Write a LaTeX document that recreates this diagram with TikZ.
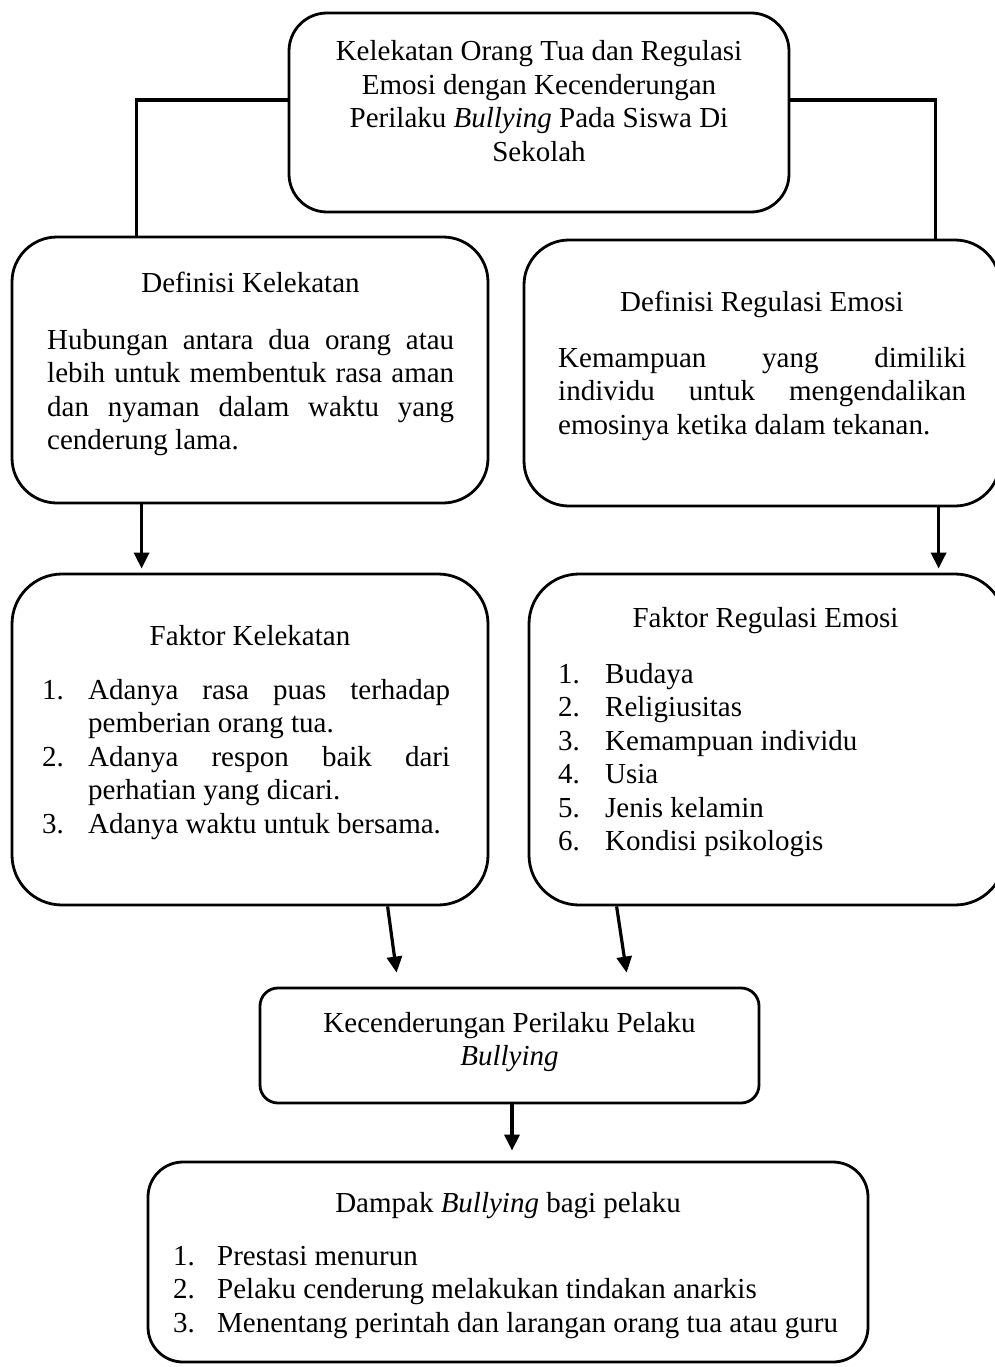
\documentclass[tikz,border=0pt]{standalone}
\usepackage{fontspec}
\setmainfont{Liberation Serif}
\usetikzlibrary{arrows.meta,calc}
\newcommand{\itm}[3]{\hangindent=#1\hangafter=1\noindent\makebox[#1][l]{#2}#3\par}
\begin{document}
\begin{tikzpicture}[x=1pt,y=-1pt,
  box/.style={draw, line width=2.8pt, rectangle, inner sep=0pt},
  conn/.style={line width=3.2pt},
  arr/.style={line width=3.2pt, -{Triangle[length=16pt,width=15pt]}},
  txt/.style={inner sep=0pt, font=\fontsize{29}{33.5}\selectfont}]
\useasboundingbox (0,0) rectangle (995,1367);
\clip (0,0) rectangle (995,1367);
% boxes
\node[box, rounded corners=38pt, minimum width=500pt, minimum height=199pt] (top) at (539,112.5) {};
\node[box, rounded corners=45pt, minimum width=476pt, minimum height=266pt] (defK) at (250,370) {};
\node[box, rounded corners=45pt, minimum width=476pt, minimum height=266pt] (defR) at (762,373) {};
\node[box, rounded corners=50pt, minimum width=476pt, minimum height=331pt] (fakK) at (250,739.5) {};
\node[box, rounded corners=50pt, minimum width=476pt, minimum height=331pt] (fakR) at (767,739.5) {};
\node[box, rounded corners=18pt, minimum width=499pt, minimum height=115pt] (mid) at (509.5,1045.5) {};
\node[box, rounded corners=35pt, minimum width=720pt, minimum height=200pt] (bot) at (508,1262) {};
% connectors
\draw[conn] (top.west |- 0,100) -| ($(defK.north west)+(126,0)$);
\draw[conn] (top.east |- 0,100) -| ($(defR.north west)+(413,0)$);
\draw[arr] ($(defK.south west)+(131,0)$) -- ($(fakK.north west)+(131,-4)$);
\draw[arr] ($(defR.south west)+(416,0)$) -- ($(fakR.north west)+(411,-4)$);
\draw[arr] ($(fakK.south west)+(377,0)$) -- ($(mid.north west)+(138,-14)$);
\draw[arr] ($(fakR.south west)+(89,0)$) -- ($(mid.north west)+(368,-14)$);
\draw[arr] ($(mid.south)+(2.5,0)$) -- ($(bot.north)+(4,-10)$);
% texts
\node[txt, anchor=base] (ttop) at (539,61) {\parbox[t]{480pt}{\centering Kelekatan Orang Tua dan Regulasi\\Emosi dengan Kecenderungan\\Perilaku \textit{Bullying} Pada Siswa Di\\Sekolah}};
\node[txt, anchor=base] (tdefK) at (250.5,292) {Definisi Kelekatan};
\node[txt, anchor=base west] (bdefK) at (47,349) {\parbox[t]{407pt}{Hubungan antara dua orang atau\linebreak lebih untuk membentuk rasa aman\linebreak dan nyaman dalam waktu yang\linebreak cenderung lama.}};
\node[txt, anchor=base] (tdefR) at (762,311) {Definisi Regulasi Emosi};
\node[txt, anchor=base west] (bdefR) at (558,367) {\parbox[t]{408pt}{Kemampuan yang dimiliki\linebreak individu untuk mengendalikan\linebreak emosinya ketika dalam tekanan.}};
\node[txt, anchor=base] (tfakK) at (250,645) {Faktor Kelekatan};
\node[txt, anchor=base west] (bfakK) at (42,699) {\parbox[t]{408pt}{%
\itm{46pt}{1.}{Adanya rasa puas terhadap\linebreak pemberian orang tua.}
\itm{46pt}{2.}{Adanya respon baik dari\linebreak perhatian yang dicari.}
\itm{46pt}{3.}{Adanya waktu untuk bersama.}}};
\node[txt, anchor=base] (tfakR) at (765.5,627) {Faktor Regulasi Emosi};
\node[txt, anchor=base west] (bfakR) at (558,683) {\parbox[t]{400pt}{\raggedright
\itm{47pt}{1.}{Budaya}
\itm{47pt}{2.}{Religiusitas}
\itm{47pt}{3.}{Kemampuan individu}
\itm{47pt}{4.}{Usia}
\itm{47pt}{5.}{Jenis kelamin}
\itm{47pt}{6.}{Kondisi psikologis}}};
\node[txt, anchor=base] (tmid) at (509.5,1032) {\parbox[t]{480pt}{\centering Kecenderungan Perilaku Pelaku\\\textit{Bullying}}};
\node[txt, anchor=base] (tbot) at (508,1212) {Dampak \textit{Bullying} bagi pelaku};
\node[txt, anchor=base west] (bbot) at (173,1265) {\parbox[t]{680pt}{\raggedright
\itm{44pt}{1.}{Prestasi menurun}
\itm{44pt}{2.}{Pelaku cenderung melakukan tindakan anarkis}
\itm{44pt}{3.}{Menentang perintah dan larangan orang tua atau guru}}};
\end{tikzpicture}
\end{document}
